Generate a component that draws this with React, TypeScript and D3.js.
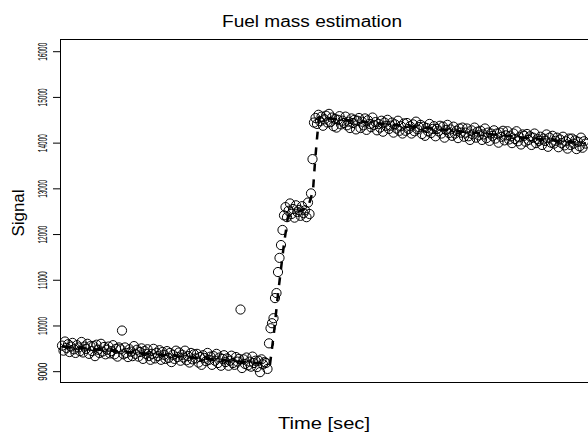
import React from "react";
import * as d3 from "d3";

// Signal samples (one per time step)
const lowSignal = [
  9570, 9460, 9660, 9520, 9600, 9430, 9550, 9630, 9490, 9410,
  9580, 9530, 9450, 9650, 9420, 9550, 9500, 9610, 9390, 9560,
  9450, 9560, 9340, 9590, 9480, 9410, 9610, 9440, 9540, 9380,
  9480, 9550, 9400, 9450, 9580, 9380, 9500, 9330, 9530, 9490,
  9900, 9380, 9530, 9410, 9320, 9490, 9440, 9340, 9560, 9390,
  9480, 9330, 9430, 9510, 9280, 9450, 9390, 9490, 9340, 9260,
  9390, 9500, 9290, 9410, 9340, 9470, 9260, 9430, 9370, 9280,
  9450, 9300, 9410, 9210, 9370, 9280, 9460, 9320, 9420, 9240,
  9370, 9310, 9460, 9250, 9340, 9200, 9410, 9270, 9380, 9290,
  9390, 9200, 9320, 9150, 9360, 9300, 9230, 9410, 9260, 9330,
  9150, 9340, 9240, 9390, 9190, 9310, 9130, 9280, 9360, 9210,
  9290, 9130, 9240, 9350, 9190, 9150, 9320, 9220, 9280, 10360,
  9080, 9270, 9170, 9310, 9140, 9220, 9110, 9330, 9190, 9240,
  9100, 9240, 8990, 9270, 9160, 9210, 9190,
];
const rampSignal = [
  9060, 9620, 9950, 10060, 10170, 10610, 10720, 11180, 11490, 11770,
  12100, 12420, 12600, 12380, 12520, 12680, 12450, 12560, 12370, 12640,
  12490, 12540, 12410, 12620, 12470, 12530, 12380, 12700, 12450, 12900,
  13650, 14450,
];
const highSignal = [
  14550, 14420, 14620, 14480, 14580, 14380, 14520, 14600, 14450, 14640,
  14460, 14560, 14370, 14530, 14340, 14510, 14590, 14410, 14490, 14440,
  14580, 14390, 14470, 14330, 14540, 14440, 14510, 14300, 14490, 14550,
  14330, 14470, 14390, 14540, 14290, 14500, 14420, 14350, 14560, 14400,
  14460, 14280, 14420, 14340, 14490, 14250, 14450, 14380, 14510, 14310,
  14380, 14450, 14230, 14410, 14320, 14490, 14270, 14370, 14210, 14430,
  14270, 14440, 14310, 14370, 14210, 14410, 14260, 14470, 14300, 14350,
  14400, 14200, 14360, 14160, 14330, 14260, 14420, 14220, 14310, 14370,
  14150, 14310, 14260, 14380, 14210, 14360, 14120, 14290, 14400, 14220,
  14300, 14160, 14360, 14210, 14270, 14110, 14320, 14230, 14340, 14140,
  14230, 14320, 14150, 14070, 14280, 14190, 14340, 14120, 14250, 14170,
  14270, 14070, 14190, 14320, 14110, 14230, 14050, 14210, 14160, 14280,
  14100, 14210, 14010, 14230, 14140, 14270, 14060, 14170, 14260, 14080,
  14150, 14000, 14210, 14090, 14260, 14040, 14130, 13970, 14190, 14160,
  14030, 14200, 14070, 14150, 13960, 14120, 14210, 14000, 14090, 14050,
  14140, 13960, 14100, 14050, 14190, 13920, 14120, 14010, 14160, 13990,
  14050, 14120, 13910, 14080, 14000, 14140, 13950, 14040, 13880, 14100,
  13960, 14100, 13990, 14060, 13870, 14030, 13930, 14120, 13900, 14040,
  13990,
];

// Fitted estimate (dashed line), knots in sample index / signal
const fitTime = [0, 137.3, 138.7, 141.3, 144, 148, 150.7, 164, 167.3, 168.7, 170, 171.3, 349.3];
const fitValue = [9550, 9170, 9170, 9850, 10700, 11800, 12400, 12600, 12950, 13600, 14100, 14560, 13990];

const yTicks = [9000, 10000, 11000, 12000, 13000, 14000, 15000, 16000];

const title = "Fuel mass estimation";
const xLabel = "Time [sec]";
const yLabel = "Signal";

export default function App() {
  const W = 588;
  const H = 436;
  const left = 60.5;
  const right = 589.5;
  const top = 39.5;
  const bottom = 382.5;

  const signal = [...lowSignal, ...rampSignal, ...highSignal];
  const pts = signal.map((v, i) => ({ t: i, v }));

  const x = d3.scaleLinear().domain([0, 349]).range([62, 585.5]);
  const y = d3.scaleLinear().domain([8759, 16267]).range([382.7, 39.5]);

  const fitLine = d3
    .line<number>()
    .x((_, i) => x(fitTime[i]))
    .y((d) => y(d))(fitValue);

  const font = "'Liberation Sans', Arial, Helvetica, sans-serif";

  return (
    <svg
      width={W}
      height={H}
      style={{ position: "absolute", left: 0, top: 0, background: "#fff" }}
      fontFamily={font}
    >
      <rect x={0} y={0} width={W} height={H} fill="#fff" />
      <text x={312} y={26.5} textAnchor="middle" fontSize={16} textLength={180} lengthAdjust="spacingAndGlyphs">
        {title}
      </text>
      <text x={324} y={429} textAnchor="middle" fontSize={16} textLength={92} lengthAdjust="spacingAndGlyphs">
        {xLabel}
      </text>
      <text
        transform={`translate(24,213) rotate(-90)`}
        textAnchor="middle"
        fontSize={16}
        textLength={47}
        lengthAdjust="spacingAndGlyphs"
      >
        {yLabel}
      </text>

      {yTicks.map((t) => (
        <g key={t}>
          <line x1={53} x2={60} y1={y(t)} y2={y(t)} stroke="#000" strokeWidth={1} />
          <text
            transform={`translate(46.5,${y(t)}) rotate(-90)`}
            textAnchor="middle"
            fontSize={12}
            textLength={18}
            lengthAdjust="spacingAndGlyphs"
          >
            {t}
          </text>
        </g>
      ))}

      <g fill="none" stroke="#000" strokeWidth={1}>
        {pts.map((p) => (
          <circle key={p.t} cx={x(p.t)} cy={y(p.v)} r={4.6} />
        ))}
      </g>

      <path d={fitLine ?? ""} fill="none" stroke="#000" strokeWidth={2.5} strokeDasharray="8,8" />

      <rect
        x={left}
        y={top}
        width={right - left}
        height={bottom - top}
        fill="none"
        stroke="#000"
        strokeWidth={1}
      />
    </svg>
  );
}
